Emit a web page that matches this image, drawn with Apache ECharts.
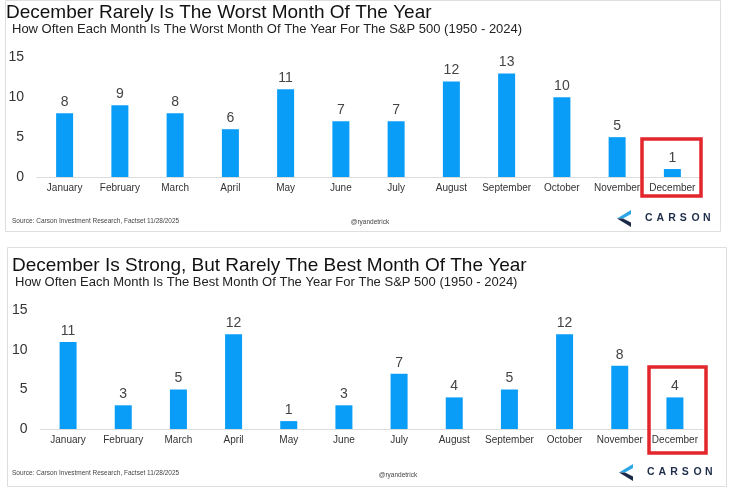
<!DOCTYPE html>
<html>
<head>
<meta charset="utf-8">
<script src="https://cdn.jsdelivr.net/npm/echarts@6/dist/echarts.min.js"></script>
<style>
html,body{margin:0;padding:0;background:#fff;}
#c{width:729px;height:488px;}
</style>
</head>
<body>
<div id="c"></div>
<script>
var months = ['January','February','March','April','May','June','July','August','September','October','November','December'];
var worstCounts = [8, 9, 8, 6, 11, 7, 7, 12, 13, 10, 5, 1];
var bestCounts = [11, 3, 5, 12, 1, 3, 7, 4, 5, 12, 8, 4];
var yTicks = [0, 5, 10, 15];

var topTitle = 'December Rarely Is The Worst Month Of The Year';
var topSub = 'How Often Each Month Is The Worst Month Of The Year For The S&P 500 (1950 - 2024)';
var botTitle = 'December Is Strong, But Rarely The Best Month Of The Year';
var botSub = 'How Often Each Month Is The Best Month Of The Year For The S&P 500 (1950 - 2024)';
var sourceText = 'Source: Carson Investment Research, Factset 11/28/2025';
var handle = '@ryandetrick';

var BLUE = '#0A9DF7';
var SANS = '"Liberation Sans", Arial, sans-serif';

var chart = echarts.init(document.getElementById('c'), null, {renderer: 'canvas'});

function xAxis(gi) {
  return {
    type: 'category', gridIndex: gi, data: months,
    axisLine: {lineStyle: {color: '#dcdcdc', width: 1}},
    axisTick: {show: false},
    axisLabel: {color: '#333', fontSize: 10, fontFamily: SANS, margin: 6, interval: 0}
  };
}
function yAxis(gi) {
  return {
    type: 'value', gridIndex: gi, min: yTicks[0], max: yTicks[yTicks.length - 1], interval: 5,
    axisLine: {show: false}, axisTick: {show: false}, splitLine: {show: false},
    axisLabel: {color: '#333', fontSize: 14, fontFamily: SANS, margin: 13}
  };
}
function barSeries(gi, data) {
  return {
    type: 'bar', xAxisIndex: gi, yAxisIndex: gi, data: data, barWidth: 17,
    itemStyle: {color: BLUE},
    label: {show: true, position: 'top', distance: 4, color: '#444', fontSize: 14, fontFamily: SANS},
    silent: true
  };
}

function logo(x, y) {
  var letters = ['C','A','R','S','O','N'];
  var els = [
    {type: 'polygon', shape: {points: [[x + 14, y], [x, y + 8.5], [x + 6, y + 8.5], [x + 14, y + 4]]}, style: {fill: '#2AA6E6'}},
    {type: 'polygon', shape: {points: [[x, y + 8.5], [x + 14, y + 17], [x + 14, y + 12.5], [x + 6, y + 8.5]]}, style: {fill: '#1B2A47'}}
  ];
  letters.forEach(function (ch, i) {
    els.push({type: 'text', x: x + 28 + i * 11.6, y: y + 8.5,
      style: {text: ch, fill: '#1F2D4A', font: 'bold 10.5px ' + SANS, textAlign: 'left', textVerticalAlign: 'middle'}});
  });
  return {type: 'group', children: els};
}

function redBox(x, y, w, h) {
  return {type: 'rect', shape: {x: x, y: y, width: w, height: h}, style: {fill: 'none', stroke: '#E3262B', lineWidth: 3.5}, z: 100};
}

function title(text, left, top, size, color) {
  return {text: text, left: left, top: top, padding: 0,
    textStyle: {fontSize: size, fontWeight: 'normal', color: color, fontFamily: SANS}};
}

var option = {
  animation: false,
  backgroundColor: '#fff',
  title: [
    title(topTitle, 6, 3, 19, '#111'),
    title(topSub, 12, 23, 13, '#222'),
    title(botTitle, 12, 256, 19, '#111'),
    title(botSub, 15, 276, 13, '#222')
  ],
  grid: [
    {left: 37, right: 29, top: 57.5, height: 119.5},
    {left: 40.5, right: 26.5, top: 310.5, height: 118.5}
  ],
  xAxis: [xAxis(0), xAxis(1)],
  yAxis: [yAxis(0), yAxis(1)],
  series: [barSeries(0, worstCounts), barSeries(1, bestCounts)],
  graphic: [
    {type: 'rect', shape: {x: 5.5, y: 0.5, width: 715, height: 231}, style: {fill: 'none', stroke: '#dedede', lineWidth: 1}, z: -1},
    {type: 'rect', shape: {x: 7.5, y: 247.5, width: 719, height: 239}, style: {fill: 'none', stroke: '#dedede', lineWidth: 1}, z: -1},
    redBox(642, 139, 59, 57),
    redBox(649, 367, 57, 86),
    {type: 'text', x: 12, y: 221, style: {text: sourceText, fill: '#444', font: '6.5px ' + SANS, textVerticalAlign: 'middle'}},
    {type: 'text', x: 370, y: 222, style: {text: handle, fill: '#444', font: '6.5px ' + SANS, textAlign: 'center', textVerticalAlign: 'middle'}},
    {type: 'text', x: 12, y: 473, style: {text: sourceText, fill: '#444', font: '6.5px ' + SANS, textVerticalAlign: 'middle'}},
    {type: 'text', x: 398, y: 475, style: {text: handle, fill: '#444', font: '6.5px ' + SANS, textAlign: 'center', textVerticalAlign: 'middle'}},
    logo(617, 210),
    logo(619, 464)
  ]
};
chart.setOption(option);
</script>
</body>
</html>
